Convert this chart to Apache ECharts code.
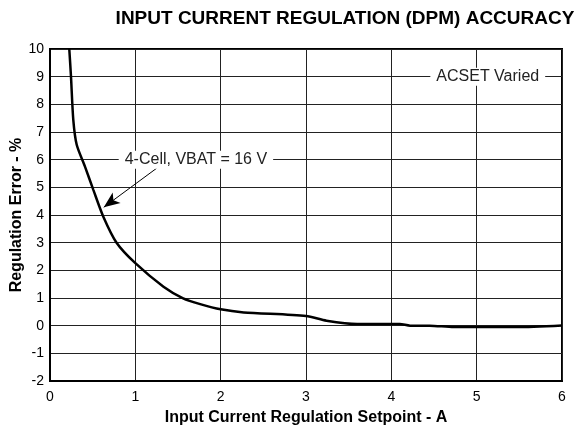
<!DOCTYPE html>
<html><head><meta charset="utf-8">
<script src="https://cdn.jsdelivr.net/npm/echarts@6/dist/echarts.min.js"></script>
<style>html,body{margin:0;padding:0;background:#fff}#c{width:577px;height:431px}</style>
</head><body><div id="c"></div>
<script>
const titleText = 'INPUT CURRENT REGULATION (DPM) ACCURACY';
const xName = 'Input Current Regulation Setpoint - A';
const yName = 'Regulation Error - %';
const setpointA = [0.226,0.246,0.273,0.313,0.41,0.508,0.625,0.78,1.0,1.33,1.56,1.76,2.0,2.27,3.0,3.24,3.6,4.1,4.22,4.45,4.73,5.47,6.0];
const errorPct  = [10,9,7.44,6.54,5.75,4.91,3.94,3.0,2.26,1.41,0.99,0.78,0.59,0.48,0.35,0.18,0.06,0.06,0.0,0.0,-0.05,-0.05,0.01];
const noteA = {text:'ACSET Varied', at:[5.13, 9]};
const noteB = {text:'4-Cell, VBAT = 16 V', at:[1.71, 6], from:[1.25, 5.69], to:[0.63, 4.28]};

const FF = "'Liberation Sans', Arial, sans-serif";
const chart = echarts.init(document.getElementById('c'));
chart.setOption({
  animation:false,
  title:{text:titleText, left:340, top:4, textAlign:'center',
    textStyle:{fontFamily:FF, fontSize:19, fontWeight:'bold', color:'#000'}},
  grid:{left:50, right:15, top:49, bottom:50, containLabel:false, outerBoundsMode:'none',
    show:true, borderColor:'#000', borderWidth:2, backgroundColor:'transparent'},
  xAxis:{type:'value', min:0, max:6, interval:1, name:xName, nameLocation:'middle', nameGap:29,
    nameMoveOverlap:false,
    nameTextStyle:{fontFamily:FF, fontSize:16, fontWeight:'bold', color:'#000'},
    axisLine:{show:true, onZero:false, lineStyle:{color:'#000', width:2}}, axisTick:{show:false},
    axisLabel:{fontFamily:FF, fontSize:14, color:'#000', margin:9},
    splitLine:{show:true, lineStyle:{color:'#222', width:1}}},
  yAxis:{type:'value', min:-2, max:10, interval:1, name:yName, nameLocation:'middle', nameGap:25,
    nameMoveOverlap:false,
    nameTextStyle:{fontFamily:FF, fontSize:16, fontWeight:'bold', color:'#000'},
    axisLine:{show:true, onZero:false, lineStyle:{color:'#000', width:2}}, axisTick:{show:false},
    axisLabel:{fontFamily:FF, fontSize:14, color:'#000', margin:6},
    splitLine:{show:true, lineStyle:{color:'#222', width:1}}},
  series:[{
    type:'line', data:setpointA.map((x,i)=>[x, errorPct[i]]), showSymbol:false, smooth:0.25,
    lineStyle:{color:'#000', width:2.5},
    markPoint:{symbol:'rect', symbolSize:1, itemStyle:{color:'rgba(0,0,0,0)'},
      label:{show:true, position:'inside', fontFamily:FF, fontSize:16, color:'#222',
        backgroundColor:'#fff', padding:[1,6], formatter:p=>p.name},
      data:[{name:noteA.text, coord:noteA.at},{name:noteB.text, coord:noteB.at}]},
    markLine:{silent:true, symbol:['none','arrow'], symbolSize:[10,16],
      label:{show:false}, lineStyle:{color:'#000', width:1, type:'solid'},
      data:[[{coord:noteB.from},{coord:noteB.to}]]}
  }]
});
</script></body></html>
